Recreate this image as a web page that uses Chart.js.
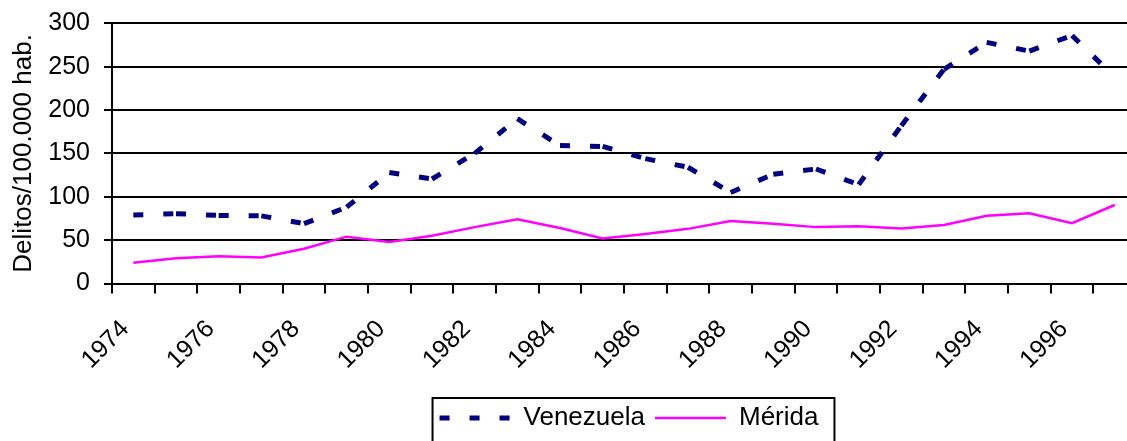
<html>
<head>
    <title>Delitos por 100.000 hab.</title>
    <script src="https://cdn.jsdelivr.net/npm/chart.js"></script>
    <style>
        body { margin: 0; overflow: hidden; background: white; }
        #wrap { width: 1258px; height: 441px; }
    </style>
</head>
<body>
    <div id="wrap"><canvas id="delitos_chart"></canvas></div>

    <script>
        const years = ["1974", "1975", "1976", "1977", "1978", "1979", "1980", "1981",
                       "1982", "1983", "1984", "1985", "1986", "1987", "1988", "1989",
                       "1990", "1991", "1992", "1993", "1994", "1995", "1996", "1997"];
        const venezuela = [79, 80.5, 78.5, 78, 69, 88, 128, 120.5, 150, 190, 159, 158,
                           144, 134, 105, 126, 132, 114, 182, 247, 278, 268, 286, 238];
        const merida = [24, 29, 31.5, 30, 40, 54, 48, 55, 65, 74, 64, 52,
                        57, 63, 72, 69, 65, 66, 63.5, 67.5, 78, 81, 69.5, 90.5];
        const y_min = 0;
        const y_max = 300;
        const y_step = 50;
        const y_title = "Delitos/100.000 hab.";

        const font_family = "'Liberation Sans', Arial, sans-serif";

        // Excel-style border around the legend
        const legend_box = {
            id: "legend_box",
            afterDraw(chart) {
                const lg = chart.legend;
                if (!lg || !lg.legendHitBoxes || !lg.legendHitBoxes.length) return;
                const boxes = lg.legendHitBoxes;
                const first = boxes[0];
                const last = boxes[boxes.length - 1];
                const ctx = chart.ctx;
                ctx.save();
                ctx.strokeStyle = "black";
                ctx.lineWidth = 2;
                ctx.strokeRect(first.left - 7, lg.top + 3, last.left + last.width - first.left + 23, 60);
                ctx.restore();
            }
        };

        // legend samples should show the dataset line (dash pattern, width)
        function legend_labels(chart) {
            const items = Chart.defaults.plugins.legend.labels.generateLabels(chart);
            items.forEach(item => {
                const ds = chart.data.datasets[item.datasetIndex];
                item.lineDash = ds.borderDash || [];
                item.lineWidth = ds.borderWidth;
                item.lineCap = "butt";
            });
            return items;
        }

        const ctx = document.getElementById("delitos_chart").getContext("2d");
        const delitos_chart = new Chart(ctx, {
            type: "line",
            data: {
                labels: years,
                datasets: [{
                    label: "Venezuela",
                    data: venezuela,
                    borderColor: "#000080",
                    backgroundColor: "#000080",
                    borderWidth: 5,
                    borderDash: [10, 20],
                    borderCapStyle: "butt",
                    pointRadius: 0,
                    tension: 0,
                    // restart the dash pattern on every segment, like Excel does
                    segment: {
                        borderDashOffset: c => (c.p0DataIndex % 2 ? 0.001 : 0)
                    }
                }, {
                    label: "Mérida",
                    data: merida,
                    borderColor: "#FF00FF",
                    backgroundColor: "#FF00FF",
                    borderWidth: 2.5,
                    pointRadius: 0,
                    tension: 0
                }]
            },
            options: {
                responsive: true,
                maintainAspectRatio: false,
                animation: false,
                layout: { padding: { top: 23.3, left: 0, right: 0, bottom: 0 } },
                plugins: {
                    tooltip: { enabled: false },
                    legend: {
                        position: "bottom",
                        labels: {
                            usePointStyle: true,
                            pointStyle: "line",
                            pointStyleWidth: 71,
                            padding: 10,
                            color: "black",
                            font: { family: font_family, size: 26 },
                            generateLabels: legend_labels
                        }
                    }
                },
                scales: {
                    x: {
                        offset: true,
                        afterFit: s => { s.height = 111.5; s.paddingRight = 122; s.paddingLeft = 0; },
                        grid: {
                            offset: true,
                            drawOnChartArea: false,
                            drawTicks: true,
                            tickLength: 10,
                            color: "black",
                            lineWidth: 2
                        },
                        border: { display: true, color: "black", width: 2 },
                        ticks: {
                            autoSkip: false,
                            maxRotation: 45,
                            minRotation: 45,
                            labelOffset: -8,
                            padding: 21,
                            color: "black",
                            font: { family: font_family, size: 25 },
                            callback: function (val, i) { return i % 2 === 0 ? this.getLabelForValue(val) : ""; }
                        }
                    },
                    y: {
                        min: y_min,
                        max: y_max,
                        afterFit: s => { s.width = 112; s.paddingTop = 0; s.paddingBottom = 0; },
                        grid: {
                            color: "black",
                            lineWidth: 2,
                            drawTicks: true,
                            tickLength: 8
                        },
                        border: { display: true, color: "black", width: 2 },
                        ticks: {
                            stepSize: y_step,
                            padding: 14,
                            color: "black",
                            font: { family: font_family, size: 25 }
                        },
                        title: {
                            display: true,
                            text: y_title,
                            color: "black",
                            padding: { top: 8, bottom: 0 },
                            font: { family: font_family, size: 26 }
                        }
                    }
                }
            },
            plugins: [legend_box]
        });
    </script>
</body>
</html>
